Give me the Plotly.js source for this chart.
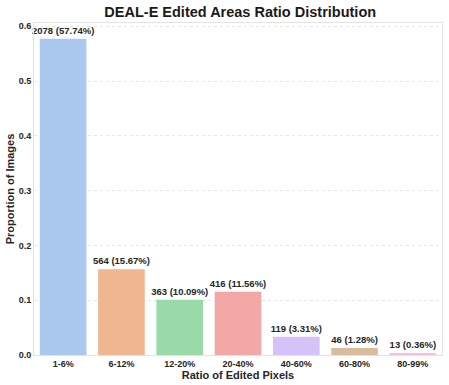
<!DOCTYPE html>
<html>
<head>
<meta charset="utf-8">
<script src="https://cdn.plot.ly/plotly-3.0.1.min.js"></script>
<style>html,body{margin:0;padding:0;background:#fff;}</style>
</head>
<body>
<div id="myDiv" style="width:449px;height:385px;"></div>
<script>
// bins of edited-pixel ratio and how many images fall in each
var bins = ['1-6%', '6-12%', '12-20%', '20-40%', '40-60%', '60-80%', '80-99%'];
var counts = [2078, 564, 363, 416, 119, 46, 13];
var percents = [57.74, 15.67, 10.09, 11.56, 3.31, 1.28, 0.36];
var barColors = ['#abc9ee', '#f0b591', '#98dba8', '#f3a8a8', '#d4c2f8', '#d9bc9e', '#f5c0e4'];

var proportions = percents.map(function(p){ return p / 100; });
var labels = [];
for (var i = 0; i < counts.length; i++) {
  labels.push(counts[i] + ' (' + percents[i].toFixed(2) + '%)');
}

var font = {family: 'Liberation Sans, Arial, sans-serif', color: '#262626', weight: 'bold'};

var trace = {
  x: bins,
  y: proportions,
  type: 'bar',
  width: 0.8,
  marker: {color: barColors, line: {width: 0}},
  text: labels,
  textposition: 'outside',
  constraintext: 'none',
  textfont: {family: font.family, size: 9.5, color: '#262626', weight: 'bold'},
  cliponaxis: false,
  hoverinfo: 'none'
};

var layout = {
  width: 449,
  height: 385,
  margin: {l: 34, r: 7, t: 23, b: 30},
  paper_bgcolor: '#fff',
  plot_bgcolor: '#fff',
  showlegend: false,
  title: {
    text: 'DEAL-E Edited Areas Ratio Distribution',
    font: {family: font.family, size: 14.5, color: '#1a1a1a', weight: 'bold'},
    x: 0.535, xanchor: 'center', y: 0.97, yanchor: 'middle'
  },
  xaxis: {
    title: {text: 'Ratio of Edited Pixels', font: {family: font.family, size: 11, color: '#262626', weight: 'bold'}, standoff: 2},
    tickfont: {family: font.family, size: 9, color: '#262626', weight: 'bold'},
    showline: true, linecolor: '#e3e3e3', linewidth: 1, mirror: true,
    showgrid: false, ticks: '', ticklen: 0
  },
  yaxis: {
    title: {text: 'Proportion of Images', font: {family: font.family, size: 11, color: '#262626', weight: 'bold'}, standoff: 1},
    tickfont: {family: font.family, size: 9, color: '#262626', weight: 'bold'},
    range: [0, 0.606],
    dtick: 0.1, tickformat: '.1f',
    showline: true, linecolor: '#e3e3e3', linewidth: 1, mirror: true,
    showgrid: true, gridcolor: '#e6e6e6', griddash: 'dot', gridwidth: 1,
    zeroline: false, ticks: ''
  },
  bargap: 0.2
};

Plotly.newPlot('myDiv', [trace], layout, {displayModeBar: false, staticPlot: true});
</script>
</body>
</html>
